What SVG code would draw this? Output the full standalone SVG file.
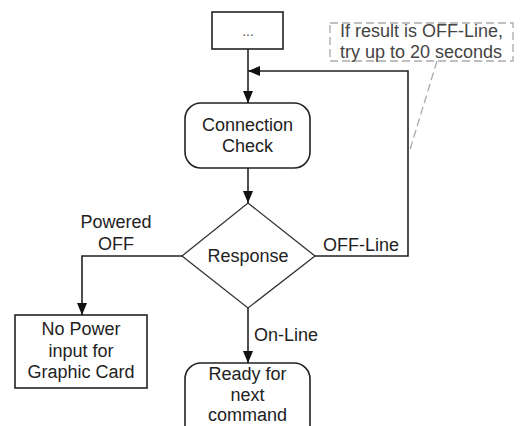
<svg xmlns="http://www.w3.org/2000/svg" width="520" height="426" viewBox="0 0 520 426">
<style>
.n{fill:#fff;stroke:#222;stroke-width:1.6}
.t{font-family:"Liberation Sans",Arial,sans-serif;font-size:18px;fill:#222;text-anchor:middle}
.c{fill:none;stroke:#222;stroke-width:1.6}
.a{font-family:"Liberation Sans",Arial,sans-serif;font-size:18px;fill:#444}
.d{fill:none;stroke:#aaa;stroke-width:1.3;stroke-dasharray:8,4}
</style>
<defs>
<marker id="ah" viewBox="0 0 12 10" refX="12" refY="5" markerWidth="12" markerHeight="10" markerUnits="userSpaceOnUse" orient="auto">
<path d="M0,0 L12,5 L0,10 Z" fill="#111"/>
</marker>
</defs>
<rect width="520" height="426" fill="#fff"/>
<g id="connectors">
<line class="c" x1="248" y1="49" x2="248" y2="103" marker-end="url(#ah)"/>
<polyline class="c" points="315,256 408,256 408,71 248,71" marker-end="url(#ah)"/>
<line class="c" x1="248" y1="168" x2="248" y2="203" marker-end="url(#ah)"/>
<polyline class="c" points="182,256 82,256 82,315" marker-end="url(#ah)"/>
<line class="c" x1="248" y1="308" x2="248" y2="363" marker-end="url(#ah)"/>
<text class="t" x="116" y="228">Powered</text>
<text class="t" x="116" y="250">OFF</text>
<text class="t" x="323" y="251" style="text-anchor:start">OFF-Line</text>
<text class="t" x="254" y="341" style="text-anchor:start">On-Line</text>
</g>
<g id="start">
<rect class="n" x="212" y="12" width="71" height="37"/>
<text class="t" x="248" y="36" style="fill:#555;font-size:14px">...</text>
</g>
<g id="check">
<rect class="n" x="185" y="103" width="125" height="65" rx="16"/>
<text class="t" x="247.5" y="131">Connection</text>
<text class="t" x="247.5" y="152">Check</text>
</g>
<g id="response">
<polygon class="n" points="248,203 315,256 248,308 182,256" style="stroke:#333;stroke-width:1.3"/>
<text class="t" x="248" y="262">Response</text>
</g>
<g id="nopower">
<rect class="n" x="15" y="315" width="132" height="73"/>
<text class="t" x="81" y="335">No Power</text>
<text class="t" x="81" y="357">input for</text>
<text class="t" x="81" y="378">Graphic Card</text>
</g>
<g id="ready">
<rect class="n" x="185" y="363" width="125" height="80" rx="16"/>
<text class="t" x="247.5" y="380">Ready for</text>
<text class="t" x="247.5" y="401">next</text>
<text class="t" x="247.5" y="421">command</text>
</g>
<g id="annotation">
<rect class="d" x="330" y="23" width="183" height="38"/>
<line class="d" x1="437" y1="61" x2="409" y2="153"/>
<text class="a" x="340" y="37">If result is OFF-Line,</text>
<text class="a" x="340" y="58">try up to 20 seconds</text>
</g>
</svg>
